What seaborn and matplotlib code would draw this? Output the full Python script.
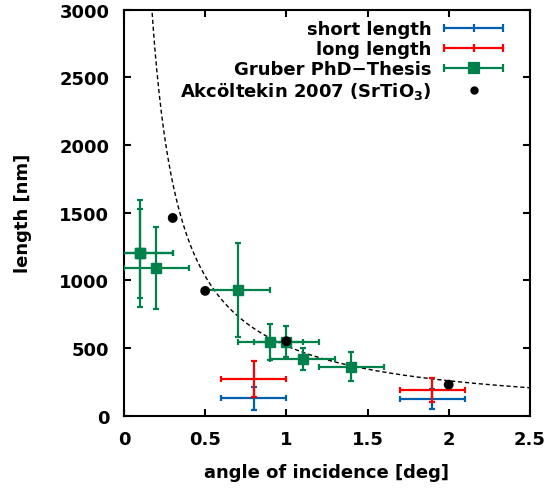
import numpy as np
import seaborn as sns
import matplotlib.pyplot as plt
from matplotlib.lines import Line2D
from matplotlib.legend_handler import HandlerLine2D, HandlerTuple

# short length (blue)
short_x = [0.8, 1.9]
short_y = [128, 123]
short_xerr = [0.2, 0.2]
short_yerr = [84, 75]

# long length (red)
long_x = [0.8, 1.9]
long_y = [271, 192]
long_xerr = [0.2, 0.2]
long_yerr = [130, 88]

# Gruber PhD-Thesis (green)
gruber_x = [0.1, 0.1, 0.2, 0.7, 0.9, 1.0, 1.1, 1.4]
gruber_y = [1200, 1200, 1092, 929, 547, 547, 419, 362]
gruber_xerr = [0.2, 0.2, 0.2, 0.2, 0.2, 0.2, 0.2, 0.2]
gruber_yerr = [395, 330, 305, 345, 133, 115, 83, 108]

# Akcoeltekin 2007
akc_x = [0.3, 0.5, 1.0, 2.0]
akc_y = [1461, 922, 550, 229]

# model curve: length = d / tan(angle)
d_nm = 9.0

sns.set_style("ticks")
plt.rcParams['font.family'] = ['DejaVu Sans']
plt.rcParams['font.weight'] = 'bold'
plt.rcParams['mathtext.default'] = 'bf'
for k in ('text.color', 'axes.labelcolor', 'xtick.color', 'ytick.color', 'axes.edgecolor'):
    plt.rcParams[k] = 'black'

fig = plt.figure(figsize=(5.47, 4.89), dpi=100)
ax = fig.add_axes([0.2267, 0.148, 0.742, 0.83])

theta = np.linspace(0.05, 2.5, 500)
sns.lineplot(x=theta, y=d_nm / np.tan(np.radians(theta)), ax=ax, color='black',
             lw=1, linestyle=(0, (3, 2)), zorder=1)

blue = '#0060ad'
red = '#ff0000'
green = '#00804a'
ew = 1.6

ax.errorbar(short_x, short_y, xerr=short_xerr, yerr=short_yerr, fmt='none',
            ecolor=blue, elinewidth=ew, capsize=2.5, capthick=ew, zorder=2)
ax.errorbar(long_x, long_y, xerr=long_xerr, yerr=long_yerr, fmt='none',
            ecolor=red, elinewidth=ew, capsize=2.5, capthick=ew, zorder=3)
ax.errorbar(gruber_x, gruber_y, xerr=gruber_xerr, yerr=gruber_yerr, fmt='s',
            color=green, ms=7, elinewidth=ew, capsize=2.5, capthick=ew, zorder=4)
sns.scatterplot(x=akc_x, y=akc_y, ax=ax, color='black', s=50, edgecolor='none',
                zorder=5, legend=False)

ax.set_xlim(0, 2.5)
ax.set_ylim(0, 3000)
ax.set_xticks([0, 0.5, 1, 1.5, 2, 2.5])
ax.set_xticklabels(['0', '0.5', '1', '1.5', '2', '2.5'])
ax.set_yticks([0, 500, 1000, 1500, 2000, 2500, 3000])
ax.tick_params(direction='in', length=5, width=1.5, labelsize=13,
               top=True, right=True, pad=10.5)
for s in ax.spines.values():
    s.set_linewidth(1.5)
    s.set_visible(True)

ax.set_xlabel('angle of incidence [deg]', fontsize=13, fontweight='bold', labelpad=11)
ax.set_ylabel('length [nm]', fontsize=13, fontweight='bold', labelpad=20)


# legend samples drawn like gnuplot: horizontal bar with end caps and a centre mark
def bar_handle(color, center_marker, center_size):
    line = Line2D([], [], color=color, lw=ew)
    caps = Line2D([], [], color=color, lw=0, marker='|', ms=6, mew=ew)
    mid = Line2D([], [], color=color, lw=0, marker=center_marker, ms=center_size, mew=ew)
    return (line, caps, mid)


h_short = bar_handle(blue, '|', 6)
h_long = bar_handle(red, '|', 6)
h_gruber = bar_handle(green, 's', 7)
h_akc = Line2D([], [], color='black', lw=0, marker='o', ms=5)

hmap = {}
for h in (h_short, h_long, h_gruber):
    hmap[h[1]] = HandlerLine2D(numpoints=2, marker_pad=0)

leg = ax.legend([h_short, h_long, h_gruber, h_akc],
                ['short length', 'long length', 'Gruber PhD\u2212Thesis',
                 'Akcöltekin 2007 (SrTiO$_3$)'],
                handler_map={tuple: HandlerTuple(ndivide=1, pad=0), **hmap},
                loc='upper right', bbox_to_anchor=(0.948, 0.988), frameon=False,
                markerfirst=False, fontsize=13, handlelength=3.3,
                borderaxespad=0, borderpad=0.3, labelspacing=0.11, handletextpad=0.7)

fig.savefig('out.png', dpi=100)
